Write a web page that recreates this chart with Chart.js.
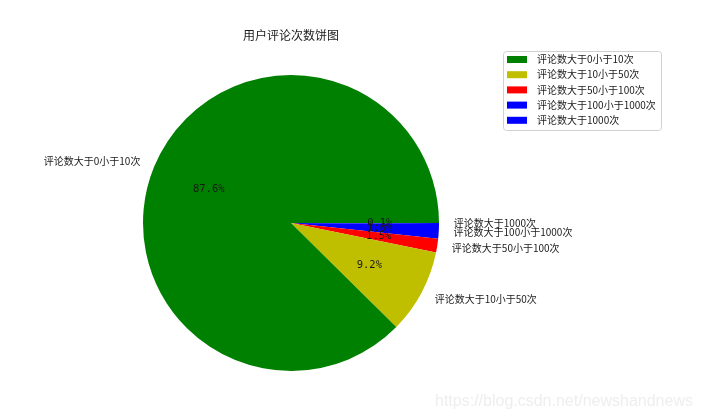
<!DOCTYPE html>
<html>
<head>
<meta charset="utf-8">
<script src="https://cdn.jsdelivr.net/npm/chart.js@4.4.1/dist/chart.umd.min.js"></script>
<style>
  html, body { margin: 0; padding: 0; background: #fff; }
  #wrap { width: 702px; height: 420px; }
</style>
</head>
<body>
<div id="wrap"><canvas id="pieChart" width="702" height="420"></canvas></div>
<script>
// data
var categories = ["评论数大于0小于10次", "评论数大于10小于50次", "评论数大于50小于100次", "评论数大于100小于1000次", "评论数大于1000次"];
var shares = [87.6, 9.2, 1.5, 1.6, 0.1];
var colors = ["#008000", "#bfbf00", "#ff0000", "#0000ff", "#0000ff"];
var chartTitle = "用户评论次数饼图";
var watermark = "https://blog.csdn.net/newshandnews";

// matplotlib goes counter-clockwise, Chart.js clockwise -> feed it reversed
var order = [4, 3, 2, 1, 0];

var cjk = '"Noto Sans CJK SC", "DejaVu Sans", sans-serif';

var labelPlugin = {
  id: "pieLabels",
  afterDatasetsDraw: function (chart) {
    var ctx = chart.ctx;
    var meta = chart.getDatasetMeta(0);
    ctx.save();
    ctx.textBaseline = "middle";
    meta.data.forEach(function (arc, i) {
      var k = order[i];
      var mid = (arc.startAngle + arc.endAngle) / 2;
      var r = arc.outerRadius;
      var c = Math.cos(mid), s = Math.sin(mid);
      // outside category label
      ctx.fillStyle = "#1a1a1a";
      ctx.font = "10px " + cjk;
      ctx.textAlign = c >= 0 ? "left" : "right";
      ctx.fillText(categories[k], arc.x + c * r * 1.1, arc.y + s * r * 1.1);
      // percent inside
      ctx.font = "10.5px 'DejaVu Sans Mono', monospace";
      ctx.textAlign = "center";
      ctx.fillText(shares[k].toFixed(1) + "%", arc.x + c * r * 0.6, arc.y + s * r * 0.6);
    });
    ctx.restore();
  },
  afterDraw: function (chart) {
    var ctx = chart.ctx;
    ctx.save();
    // title
    ctx.fillStyle = "#1a1a1a";
    ctx.font = "12px " + cjk;
    ctx.textAlign = "center";
    ctx.textBaseline = "middle";
    ctx.fillText(chartTitle, 291, 35);
    // legend box
    var bx = 503, by = 51, bw = 158, bh = 79;
    ctx.fillStyle = "rgba(255,255,255,0.8)";
    ctx.strokeStyle = "#d0d0d0";
    ctx.lineWidth = 1;
    ctx.beginPath();
    ctx.roundRect(bx + 0.5, by + 0.5, bw, bh, 3);
    ctx.fill();
    ctx.stroke();
    ctx.font = "10px " + cjk;
    ctx.textAlign = "left";
    categories.forEach(function (name, i) {
      var y = 59.5 + i * 15.2;
      ctx.fillStyle = colors[i];
      ctx.fillRect(507, y - 3.5, 20, 7);
      ctx.fillStyle = "#1a1a1a";
      ctx.fillText(name, 537, y);
    });
    // faint watermark bottom right
    ctx.font = "16px 'Liberation Sans', Arial, sans-serif";
    ctx.fillStyle = "#eeeeee";
    ctx.textAlign = "left";
    ctx.fillText(watermark, 435, 402);
    ctx.restore();
  }
};

new Chart(document.getElementById("pieChart").getContext("2d"), {
  type: "pie",
  data: {
    labels: order.map(function (k) { return categories[k]; }),
    datasets: [{
      data: order.map(function (k) { return shares[k]; }),
      backgroundColor: order.map(function (k) { return colors[k]; }),
      borderWidth: 0
    }]
  },
  options: {
    responsive: false,
    animation: false,
    rotation: 90,
    layout: { padding: { left: 143, right: 263, top: 75, bottom: 49 } },
    plugins: {
      legend: { display: false },
      tooltip: { enabled: false }
    }
  },
  plugins: [labelPlugin]
});
</script>
</body>
</html>
